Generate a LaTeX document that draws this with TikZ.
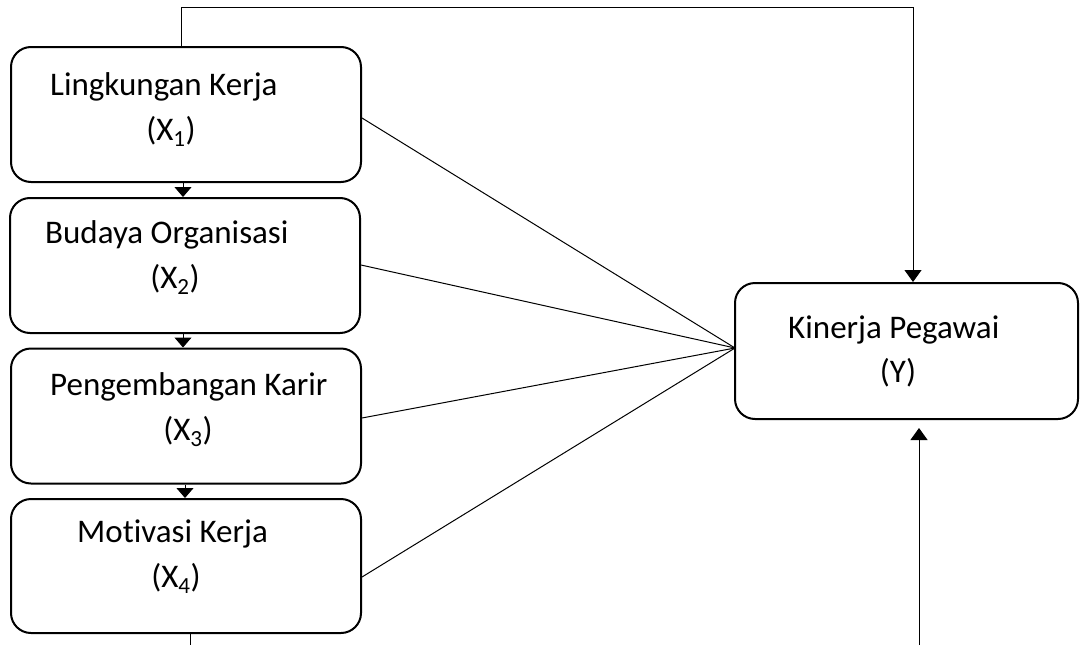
\documentclass[tikz,border=0pt]{standalone}
\usepackage{fontspec}
\setmainfont[Ligatures=NoCommon]{Carlito}
\usetikzlibrary{arrows.meta}
\begin{document}
\begin{tikzpicture}[x=1pt,y=-1pt,
  box/.style={draw,line width=2pt,rounded corners=20pt,inner sep=0pt},
  lbl/.style={inner sep=0pt,font=\fontsize{33}{40}\selectfont},
  conn/.style={line width=1pt},
  bigarr/.style={conn,-{Triangle[width=17pt,length=12pt]}},
  smallarr/.style={conn,-{Triangle[width=17pt,length=10pt]}}]
\useasboundingbox (0,0) rectangle (1081,645);
% boxes
\node[box,minimum width=350pt,minimum height=135pt] (b1) at (186,114.5) {};
\node[box,minimum width=350pt,minimum height=135pt] (b2) at (185,265.5) {};
\node[box,minimum width=350pt,minimum height=135pt] (b3) at (186,416) {};
\node[box,minimum width=350pt,minimum height=134pt] (b4) at (186,566) {};
\node[box,minimum width=343pt,minimum height=136pt] (y) at (906.5,351) {};
% texts
\node[lbl,anchor=base west] (t1a) at (50,95) {Lingkungan Kerja};
\node[lbl,anchor=base] (t1b) at (171,140) {(X\textsubscript{1})};
\node[lbl,anchor=base west] (t2a) at (45,243) {Budaya Organisasi};
\node[lbl,anchor=base] (t2b) at (175,288) {(X\textsubscript{2})};
\node[lbl,anchor=base west] (t3a) at (50,395) {Pengembangan Karir};
\node[lbl,anchor=base] (t3b) at (188,440) {(X\textsubscript{3})};
\node[lbl,anchor=base west] (t4a) at (77,542) {Motivasi Kerja};
\node[lbl,anchor=base] (t4b) at (176,587) {(X\textsubscript{4})};
\node[lbl,anchor=base west] (tya) at (788,338) {Kinerja Pegawai};
\node[lbl,anchor=base] (tyb) at (898,382) {(Y)};
% coordinates
\coordinate (ttl) at (181,7);
\coordinate (ttr) at (913,7);
\coordinate (bot4) at (190,645);
\coordinate (boty) at (919,645);
\coordinate (tipy) at (919,428);
\coordinate (conv) at (735,348);
\coordinate (a12) at (183,0);
\coordinate (a23) at (183,0);
\coordinate (a34) at (185,0);
% connectors
\draw[bigarr] (b1.north -| ttl) -- (ttl) -- (ttr) -- (ttr |- y.north);
\draw[conn] (b4.south -| bot4) -- (bot4);
\draw[bigarr] (boty) -- (tipy);
\draw[smallarr] (b1.south -| a12) -- (b2.north -| a12);
\draw[smallarr] (b2.south -| a23) -- (b3.north -| a23);
\draw[smallarr] (b3.south -| a34) -- (b4.north -| a34);
\draw[conn] ([yshift=-3.5pt]b1.east) -- (conv);
\draw[conn] ([yshift=0.5pt]b2.east) -- (conv);
\draw[conn] ([yshift=-2pt]b3.east) -- (conv);
\draw[conn] ([yshift=-11pt]b4.east) -- (conv);
\end{tikzpicture}
\end{document}
